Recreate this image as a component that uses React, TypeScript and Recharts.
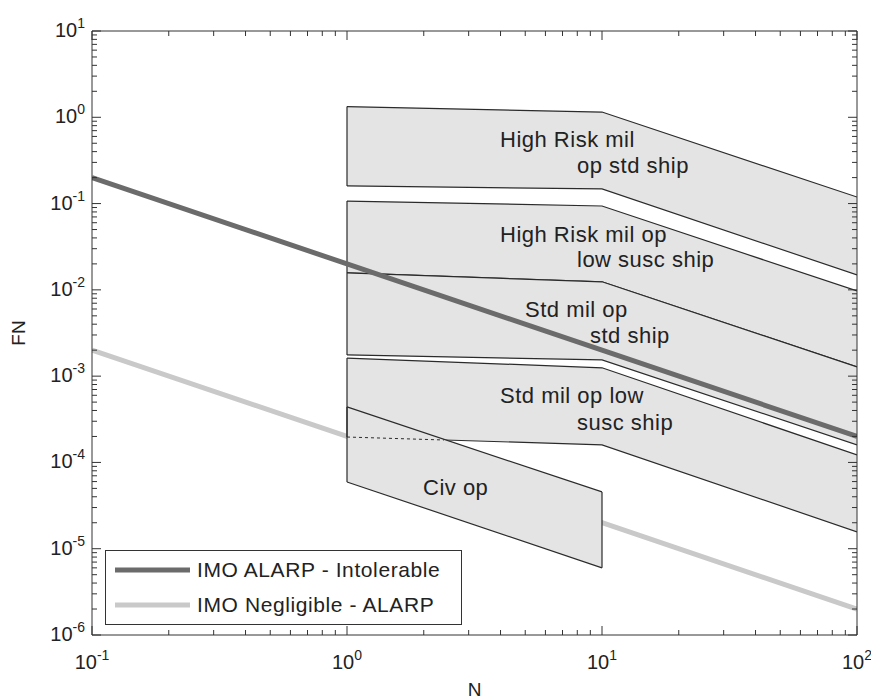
import {
  ComposedChart,
  XAxis,
  YAxis,
  Area,
  Line,
  ReferenceLine,
  Legend,
  Label,
} from "recharts";

// N values where the IMO criteria lines are read
const nPoints = [0.1, 1, 10, 100];
const imoIntolerable = [0.2, 0.02, 0.002, 0.0002];
const imoNegligible = [0.002, 0.0002, 0.00002, 0.000002];

// the military bands are read at N = 1, 10, 100
const bandN = [1, 10, 100];
const highRiskStdTop = [1.33, 1.15, 0.119];
const highRiskStdBottom = [0.16, 0.148, 0.0149];
const highRiskLowTop = [0.107, 0.0937, 0.0097];
const highRiskLowBottom = [0.0157, 0.0124, 0.00128];
const stdStdBottom = [0.00176, 0.00154, 0.00016];
const stdLowTop = [0.00162, 0.00125, 0.000122];
const stdLowBottom = [0.000197, 0.00016, 0.0000157];

// civil band, N = 1 to 10
const civN = [1, 10];
const civTop = [0.00044, 0.0000455];
const civBottom = [0.0000594, 0.000006];

// part of the std low susc lower edge that sits inside the civil band
const overlapN = [1, 2.4];
const overlapFN = [0.000197, 0.000182];

const xDecades = [-1, 0, 1, 2];
const yDecades = [-6, -5, -4, -3, -2, -1, 0, 1];

const legendNames = ["IMO ALARP - Intolerable", "IMO Negligible - ALARP"];

const FONT = "'Liberation Sans', Arial, Helvetica, sans-serif";
const DARK = "#6b6b6b";
const LIGHT = "#c9c9c9";
const FILL = "#e4e4e4";
const EDGE = "#2b2b2b";
const AXIS = "#333";

const minorTicks = (decades: number[]) => {
  const out: number[] = [];
  decades.forEach((d, i) => {
    out.push(Math.pow(10, d));
    if (i < decades.length - 1) {
      for (let m = 2; m <= 9; m++) out.push(m * Math.pow(10, d));
    }
  });
  return out;
};
const xTicks = minorTicks(xDecades);
const yTicks = minorTicks(yDecades);

const pick = (xs: number[], lo: number[], hi: number[], n: number) => {
  const i = xs.indexOf(n);
  return i < 0 ? null : [lo[i], hi[i]];
};

const table = nPoints.map((n, i) => ({
  n,
  intolerable: imoIntolerable[i],
  negligible: imoNegligible[i],
  hrStd: pick(bandN, highRiskStdBottom, highRiskStdTop, n),
  hrLow: pick(bandN, highRiskLowBottom, highRiskLowTop, n),
  stdStd: pick(bandN, stdStdBottom, highRiskLowBottom, n),
  stdLow: pick(bandN, stdLowBottom, stdLowTop, n),
  civ: pick(civN, civBottom, civTop, n),
}));

const bandLabels = [
  { text: "High Risk mil", x: 492, y: 139 },
  { text: "op std ship", x: 569, y: 165 },
  { text: "High Risk mil op", x: 492, y: 234 },
  { text: "low susc ship", x: 569, y: 259 },
  { text: "Std mil op", x: 517, y: 309 },
  { text: "std ship", x: 582, y: 335 },
  { text: "Std mil op low", x: 492, y: 395 },
  { text: "susc ship", x: 569, y: 422 },
  { text: "Civ op", x: 415, y: 487 },
];

const isDecade = (v: number) =>
  Math.abs(Math.log10(v) - Math.round(Math.log10(v))) < 1e-6;

const BottomTick = (props: any) => {
  const { x, y, payload } = props;
  const major = isDecade(payload.value);
  return (
    <g>
      <line x1={x} x2={x} y1={y} y2={y - (major ? 9 : 5)} stroke={AXIS} />
      {major && (
        <text x={x} y={y + 34} textAnchor="middle" fontSize={20} fill="#222" fontFamily={FONT}>
          10
          <tspan dy={-9} fontSize={14}>
            {Math.round(Math.log10(payload.value))}
          </tspan>
        </text>
      )}
    </g>
  );
};

const TopTick = (props: any) => {
  const { x, y, payload } = props;
  const major = isDecade(payload.value);
  return <line x1={x} x2={x} y1={y} y2={y + (major ? 9 : 5)} stroke={AXIS} />;
};

const LeftTick = (props: any) => {
  const { x, y, payload } = props;
  const major = isDecade(payload.value);
  return (
    <g>
      <line x1={x} x2={x + (major ? 9 : 5)} y1={y} y2={y} stroke={AXIS} />
      {major && (
        <text x={x - 7} y={y + 6} textAnchor="end" fontSize={20} fill="#222" fontFamily={FONT}>
          10
          <tspan dy={-9} fontSize={14}>
            {Math.round(Math.log10(payload.value))}
          </tspan>
        </text>
      )}
    </g>
  );
};

const RightTick = (props: any) => {
  const { x, y, payload } = props;
  const major = isDecade(payload.value);
  return <line x1={x} x2={x - (major ? 9 : 5)} y1={y} y2={y} stroke={AXIS} />;
};

const LegendBox = () => (
  <svg width={357} height={75} style={{ display: "block" }}>
    <rect x={0.5} y={0.5} width={356} height={74} fill="#fff" stroke={AXIS} />
    {legendNames.map((name, i) => (
      <g key={name}>
        <line
          x1={10}
          x2={85}
          y1={20 + i * 35}
          y2={20 + i * 35}
          stroke={i === 0 ? DARK : LIGHT}
          strokeWidth={5}
        />
        <text x={92} y={27 + i * 35} fontSize={21} letterSpacing={0.6} fill="#222" fontFamily={FONT}>
          {name}
        </text>
      </g>
    ))}
  </svg>
);

const ids = { xAxisId: "bottom", yAxisId: "left" };

const edge = (n: number, lo: number, hi: number, key: string) => (
  <ReferenceLine
    key={key}
    {...ids}
    segment={[
      { x: n, y: lo },
      { x: n, y: hi },
    ]}
    stroke={EDGE}
    strokeWidth={1.2}
  />
);

const App = () => {
  return (
    <div style={{ position: "relative", width: 871, height: 692 }}>
      <ComposedChart
        width={871}
        height={692}
        data={table}
        margin={{ top: 18, right: 17, bottom: 0, left: 0 }}
      >
        <XAxis
          xAxisId="bottom"
          dataKey="n"
          type="number"
          scale="log"
          domain={[0.1, 100]}
          allowDataOverflow
          ticks={xTicks}
          interval={0}
          height={65}
          tickSize={0}
          tickMargin={0}
          tickLine={false}
          tick={BottomTick}
          axisLine={{ stroke: AXIS }}
        >
          <Label
            content={(p: any) => (
              <text
                x={p.viewBox.x + p.viewBox.width / 2}
                y={p.viewBox.y + 61}
                textAnchor="middle"
                fontSize={19}
                fill="#222"
                fontFamily={FONT}
              >
                N
              </text>
            )}
          />
        </XAxis>
        <XAxis
          xAxisId="top"
          orientation="top"
          dataKey="n"
          type="number"
          scale="log"
          domain={[0.1, 100]}
          allowDataOverflow
          ticks={xTicks}
          interval={0}
          height={5}
          tickSize={0}
          tickMargin={0}
          tickLine={false}
          tick={TopTick}
          axisLine={{ stroke: AXIS }}
        />
        <YAxis
          yAxisId="left"
          type="number"
          scale="log"
          domain={[1e-6, 10]}
          allowDataOverflow
          ticks={yTicks}
          interval={0}
          width={84}
          tickSize={0}
          tickMargin={0}
          tickLine={false}
          tick={LeftTick}
          axisLine={{ stroke: AXIS }}
        >
          <Label
            content={(p: any) => {
              const cx = p.viewBox.x + 10;
              const cy = p.viewBox.y + p.viewBox.height / 2;
              return (
                <text
                  x={cx}
                  y={cy}
                  transform={`rotate(-90 ${cx} ${cy})`}
                  textAnchor="middle"
                  dominantBaseline="central"
                  fontSize={19}
                  fill="#222"
                  fontFamily={FONT}
                >
                  FN
                </text>
              );
            }}
          />
        </YAxis>
        <YAxis
          yAxisId="right"
          orientation="right"
          type="number"
          scale="log"
          domain={[1e-6, 10]}
          allowDataOverflow
          ticks={yTicks}
          interval={0}
          width={5}
          tickSize={0}
          tickMargin={0}
          tickLine={false}
          tick={RightTick}
          axisLine={{ stroke: AXIS }}
        />

        <Area
          {...ids}
          type="linear"
          dataKey="negligible"
          name={legendNames[1]}
          fill="none"
          stroke={LIGHT}
          strokeWidth={5}
          isAnimationActive={false}
          legendType="none"
        />
        {["hrStd", "hrLow", "stdStd", "stdLow", "civ"].map((key) => (
          <Area
            key={key}
            {...ids}
            type="linear"
            dataKey={key}
            fill={FILL}
            fillOpacity={1}
            stroke={EDGE}
            strokeWidth={1.2}
            isAnimationActive={false}
            legendType="none"
          />
        ))}

        {edge(bandN[0], highRiskStdBottom[0], highRiskStdTop[0], "e1")}
        {edge(bandN[0], highRiskLowBottom[0], highRiskLowTop[0], "e2")}
        {edge(bandN[0], stdStdBottom[0], highRiskLowBottom[0], "e3")}
        {edge(bandN[0], stdLowBottom[0], stdLowTop[0], "e4")}
        {edge(civN[0], civBottom[0], civTop[0], "e5")}
        {edge(civN[1], civBottom[1], civTop[1], "e6")}
        <ReferenceLine
          {...ids}
          segment={[
            { x: overlapN[0], y: overlapFN[0] },
            { x: overlapN[1], y: overlapFN[1] },
          ]}
          stroke={EDGE}
          strokeWidth={1}
          strokeDasharray="3 3"
        />

        <Line
          {...ids}
          type="linear"
          dataKey="intolerable"
          name={legendNames[0]}
          stroke={DARK}
          strokeWidth={5}
          dot={false}
          isAnimationActive={false}
        />

        <Legend
          layout="horizontal"
          verticalAlign="middle"
          align="center"
          wrapperStyle={{ left: 97, top: 542, width: 357, height: 75 }}
          content={LegendBox}
        />
      </ComposedChart>
      <svg
        width={871}
        height={692}
        style={{ position: "absolute", left: 0, top: 0, pointerEvents: "none" }}
      >
        {bandLabels.map((l) => (
          <text
            key={l.text}
            x={l.x}
            y={l.y}
            fontSize={22}
            letterSpacing={0.5}
            fill="#222"
            fontFamily={FONT}
          >
            {l.text}
          </text>
        ))}
      </svg>
    </div>
  );
};

export default App;
